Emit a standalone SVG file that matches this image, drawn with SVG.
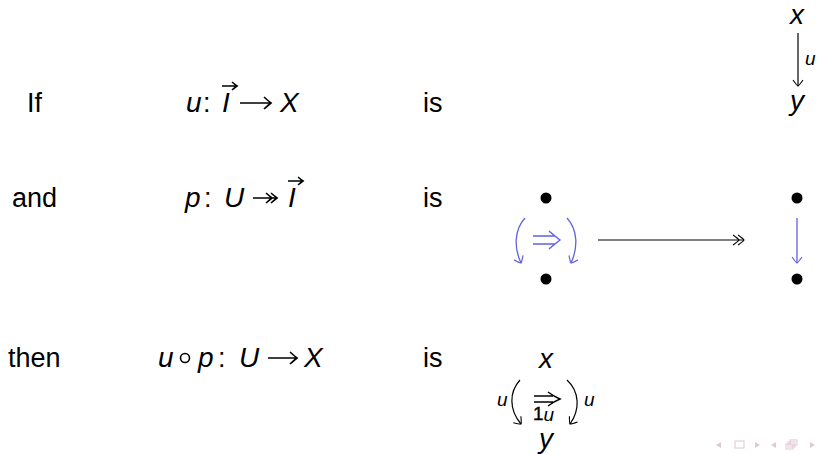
<svg xmlns="http://www.w3.org/2000/svg" width="818" height="454" viewBox="0 0 818 454">
<style>
.t{font-family:"Liberation Sans","DejaVu Sans",sans-serif;font-size:27px;fill:#000}
.m{font-family:"Liberation Sans","DejaVu Sans",sans-serif;font-size:28px;font-style:italic;fill:#000}
.s{font-family:"Liberation Sans","DejaVu Sans",sans-serif;font-size:19px;font-style:italic;fill:#000}
.blk{stroke:#000;stroke-width:1.2;fill:none}
.ar{stroke:#000;stroke-width:1.6;fill:none}
.blu{stroke:#6262e0;stroke-width:1.3;fill:none}
.nav{fill:none;stroke:#e0c8d8;stroke-width:1}
</style>
<defs>
<marker id="hk" markerWidth="12" markerHeight="12" refX="0" refY="0" viewBox="-7 -6 8 12" orient="auto" markerUnits="userSpaceOnUse">
<path d="M-6,-5 Q-1,-1.5 0,0 Q-1,1.5 -6,5" stroke="#000" stroke-width="1.1" fill="none"/>
</marker>
<marker id="hb" markerWidth="12" markerHeight="12" refX="0" refY="0" viewBox="-7 -6 8 12" orient="auto" markerUnits="userSpaceOnUse">
<path d="M-6,-5 Q-1,-1.5 0,0 Q-1,1.5 -6,5" stroke="#6262e0" stroke-width="1.2" fill="none"/>
</marker>
</defs>
<g id="labels">
<text class="t" x="27" y="112">If</text>
<text class="t" x="12" y="207">and</text>
<text class="t" x="8" y="367">then</text>
<text class="t" x="423" y="112">is</text>
<text class="t" x="423" y="207">is</text>
<text class="t" x="423" y="367">is</text>
</g>
<g id="formula1">
<text class="m" x="186" y="112">u</text>
<text class="t" x="203" y="112">:</text>
<text class="m" x="222" y="112">I</text>
<path d="M222,86 L237,86 M232,82 Q235.5,85 237,86 Q235.5,87 232,90" class="ar"/>
<path d="M240,103 L271,103 M264,97 Q269,101.5 271,103 Q269,104.5 264,109" class="ar"/>
<text class="m" x="280" y="112">X</text>
</g>
<g id="formula2">
<text class="m" x="185" y="207">p</text>
<text class="t" x="204" y="207">:</text>
<text class="m" x="224" y="207">U</text>
<path d="M253,198 L277,198 M266,193 Q270,196.5 272,198 Q270,199.5 266,203 M271,193 Q275,196.5 277,198 Q275,199.5 271,203" class="ar"/>
<text class="m" x="288" y="207">I</text>
<path d="M288,181 L303,181 M298,177 Q301.5,180 303,181 Q301.5,182 298,185" class="ar"/>
</g>
<g id="formula3">
<text class="m" x="158" y="367">u</text>
<circle cx="185" cy="358" r="4.5" class="ar" stroke-width="1.4"/>
<text class="m" x="198" y="367">p</text>
<text class="t" x="218" y="367">:</text>
<text class="m" x="239" y="367">U</text>
<path d="M268,358 L297,358 M290,352 Q295,356.5 297,358 Q295,359.5 290,364" class="ar"/>
<text class="m" x="304" y="367">X</text>
</g>
<g id="diag1">
<text class="m" x="797" y="24" text-anchor="middle">x</text>
<text class="m" x="797" y="110" text-anchor="middle">y</text>
<text class="s" x="805" y="65">u</text>
</g>
<g id="diag2">
<circle cx="546" cy="198" r="5.5" fill="#000"/>
<circle cx="546" cy="279" r="5.5" fill="#000"/>
<path d="M533,236 L555,236 M533,244 L555,244 M549,231 Q556,237 560,240 Q556,243 549,249" stroke="#6262e0" stroke-width="1.5" fill="none"/>
<circle cx="797" cy="198" r="5.5" fill="#000"/>
<circle cx="797" cy="279" r="5.5" fill="#000"/>
</g>
<g id="diag3">
<text class="m" x="546" y="368" text-anchor="middle">x</text>
<text class="m" x="546" y="448" text-anchor="middle">y</text>
<text class="s" x="497" y="406">u</text>
<text class="s" x="584" y="406">u</text>
<path d="M534,396 L553,396 M534,402 L553,402 M548,392 Q554,396.5 560,399 Q554,401.5 548,406" stroke="#000" stroke-width="1.4" fill="none"/>
<text x="533" y="420" style="font-family:'Liberation Sans',sans-serif;font-size:19px;stroke:#000;stroke-width:0.4">1<tspan class="s" font-size="13" dy="1" style="stroke:none">u</tspan></text>
</g>
<g id="connectors">
<line x1="798" y1="33" x2="798" y2="86" class="blk" marker-end="url(#hk)"/>
<path d="M525,218 C514,230 514,248 521,263" class="blu" marker-end="url(#hb)"/>
<path d="M567,218 C578,230 578,248 571,263" class="blu" marker-end="url(#hb)"/>
<line x1="598" y1="240" x2="744" y2="240" class="blk" marker-end="url(#hk)"/>
<path d="M733,235 Q738,238.5 739,240 Q738,241.5 733,245" class="blk"/>
<line x1="797" y1="218" x2="797" y2="263" class="blu" marker-end="url(#hb)"/>
<path d="M520,380 C509,392 509,410 521,424" class="blk" marker-end="url(#hk)"/>
<path d="M567,380 C580,392 580,410 570,424" class="blk" marker-end="url(#hk)"/>
</g>
<g id="nav">
<path d="M721,448 L716,445 L721,442 Z" fill="#e0c8d8"/>
<rect x="735" y="441" width="9" height="7" class="nav"/>
<path d="M755,448 L760,445 L755,442 Z" fill="#e0c8d8"/>
<path d="M776,448 L771,445 L776,442 Z" fill="#e0c8d8"/>
<rect x="786" y="444" width="7" height="5" class="nav"/>
<rect x="788" y="442" width="7" height="5" class="nav"/>
<rect x="790" y="440" width="7" height="5" class="nav"/>
<path d="M810,448 L815,445 L810,442 Z" fill="#e0c8d8"/>
</g>
</svg>
